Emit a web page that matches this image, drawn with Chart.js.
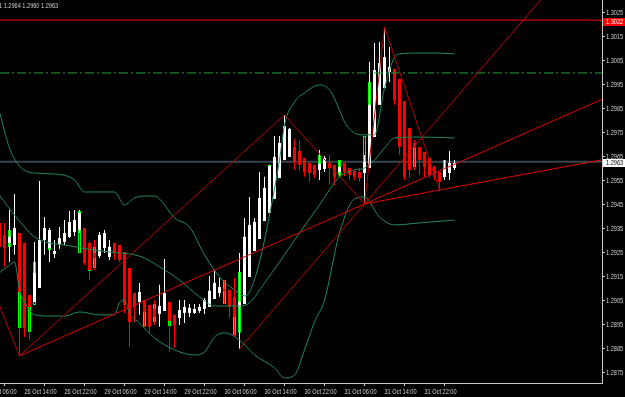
<!DOCTYPE html>
<html>
<head>
<meta charset="utf-8">
<script src="https://cdn.jsdelivr.net/npm/chart.js@4.4.1/dist/chart.umd.min.js"></script>
<style>
  html, body { margin: 0; padding: 0; background: #000; }
  #wrap { width: 625px; height: 397px; position: relative; }
</style>
</head>
<body>
<div id="wrap"><canvas id="graficoVelas"></canvas></div>
<script>
// Heiken Ashi H1, primer valor = barra -1 (26 Oct 09:00)
const haOpen = [1.29375, 1.29325, 1.29292, 1.29283, 1.29333, 1.29292, 1.29075, 1.29046, 1.29104, 1.29304,
  1.29271, 1.29246, 1.29287, 1.29296, 1.29317, 1.29337, 1.29346, 1.29354, 1.29292, 1.29250,
  1.29237, 1.29271, 1.29233, 1.29292, 1.29283, 1.29254, 1.29187, 1.29083, 1.29046, 1.29054,
  1.29033, 1.29017, 1.28996, 1.29008, 1.29046, 1.28992, 1.28979, 1.29000, 1.29000, 1.29000,
  1.29008, 1.29017, 1.29025, 1.29058, 1.29083, 1.29100, 1.29096, 1.29067, 1.29025, 1.29037,
  1.29150, 1.29258, 1.29308, 1.29383, 1.29417, 1.29475, 1.29562, 1.29637, 1.29650, 1.29691,
  1.29675, 1.29646, 1.29625, 1.29617, 1.29596, 1.29600, 1.29625, 1.29617, 1.29587, 1.29625,
  1.29604, 1.29592, 1.29587, 1.29583, 1.29604, 1.29733, 1.29867, 1.29937, 1.30004, 1.30017,
  1.29975, 1.29883, 1.29771, 1.29708, 1.29691, 1.29671, 1.29646, 1.29612, 1.29587, 1.29567,
  1.29583, 1.29604];
const haClose = [1.29275, 1.29271, 1.29317, 1.29354, 1.29087, 1.28937, 1.29025, 1.29167, 1.29304, 1.29354,
  1.29346, 1.29258, 1.29312, 1.29333, 1.29379, 1.29387, 1.29417, 1.29208, 1.29179, 1.29229,
  1.29325, 1.29333, 1.29275, 1.29254, 1.29221, 1.29033, 1.28962, 1.29025, 1.29087, 1.29004,
  1.28942, 1.28983, 1.29029, 1.29083, 1.28967, 1.28950, 1.29012, 1.29025, 1.29021, 1.29017,
  1.29025, 1.29054, 1.29092, 1.29125, 1.29108, 1.29092, 1.29025, 1.28983, 1.29046, 1.29317,
  1.29367, 1.29379, 1.29479, 1.29521, 1.29612, 1.29650, 1.29708, 1.29779, 1.29767, 1.29629,
  1.29617, 1.29587, 1.29583, 1.29575, 1.29621, 1.29646, 1.29604, 1.29567, 1.29608, 1.29587,
  1.29575, 1.29567, 1.29562, 1.29629, 1.29867, 1.30012, 1.30041, 1.30066, 1.30025, 1.29887,
  1.29691, 1.29567, 1.29596, 1.29687, 1.29637, 1.29608, 1.29575, 1.29567, 1.29546, 1.29604,
  1.29625, 1.29625];
const haHigh = [1.29408, 1.29375, 1.29429, 1.29496, 1.29333, 1.29292, 1.29075, 1.29296, 1.29550, 1.29400,
  1.29354, 1.29304, 1.29358, 1.29387, 1.29425, 1.29429, 1.29429, 1.29354, 1.29292, 1.29304,
  1.29337, 1.29346, 1.29304, 1.29292, 1.29283, 1.29254, 1.29187, 1.29083, 1.29125, 1.29054,
  1.29033, 1.29054, 1.29117, 1.29225, 1.29046, 1.28992, 1.29054, 1.29054, 1.29037, 1.29037,
  1.29037, 1.29062, 1.29154, 1.29175, 1.29146, 1.29137, 1.29096, 1.29146, 1.29250, 1.29396,
  1.29483, 1.29396, 1.29587, 1.29567, 1.29617, 1.29737, 1.29737, 1.29825, 1.29771, 1.29725,
  1.29721, 1.29646, 1.29625, 1.29617, 1.29679, 1.29654, 1.29658, 1.29617, 1.29629, 1.29625,
  1.29604, 1.29592, 1.29604, 1.29658, 1.30046, 1.30125, 1.30129, 1.30191, 1.30108, 1.30017,
  1.29975, 1.29883, 1.29771, 1.29721, 1.29691, 1.29671, 1.29646, 1.29612, 1.29587, 1.29637,
  1.29675, 1.29637];
const haLow = [1.29262, 1.29192, 1.29212, 1.29242, 1.28821, 1.28900, 1.28887, 1.29046, 1.29104, 1.29242,
  1.29212, 1.29229, 1.29267, 1.29283, 1.29312, 1.29321, 1.29333, 1.29200, 1.29137, 1.29179,
  1.29229, 1.29250, 1.29221, 1.29221, 1.29212, 1.29000, 1.28858, 1.28962, 1.28992, 1.28942,
  1.28917, 1.28950, 1.28942, 1.29008, 1.28837, 1.28854, 1.28950, 1.28958, 1.28983, 1.28996,
  1.29000, 1.28996, 1.29025, 1.29058, 1.29067, 1.29037, 1.28979, 1.28900, 1.28850, 1.29037,
  1.29150, 1.29258, 1.29308, 1.29383, 1.29417, 1.29475, 1.29562, 1.29637, 1.29650, 1.29596,
  1.29596, 1.29567, 1.29546, 1.29562, 1.29554, 1.29587, 1.29533, 1.29533, 1.29575, 1.29571,
  1.29554, 1.29554, 1.29546, 1.29454, 1.29604, 1.29733, 1.29867, 1.29937, 1.29962, 1.29867,
  1.29658, 1.29554, 1.29562, 1.29596, 1.29575, 1.29567, 1.29562, 1.29554, 1.29512, 1.29554,
  1.29554, 1.29596];

// velas reales (cuerpo con borde verde) que asoman detrás del Heiken Ashi
const realIdx = [1, 3, 5, 6, 9, 13, 15, 17, 18, 19, 24, 28, 30, 33, 40, 44, 46, 47, 48, 53,
  56, 58, 63, 67, 72, 73, 79, 82, 88];
const realOpen = [1.29346, 1.29304, 1.28921, 1.29033, 1.29346, 1.29317, 1.29250, 1.29229, 1.29187, 1.29237,
  1.29125, 1.29054, 1.28962, 1.29033, 1.29017, 1.29037, 1.28908, 1.28917, 1.29171, 1.29417,
  1.29712, 1.29679, 1.29596, 1.29637, 1.29583, 1.29742, 1.29783, 1.29608, 1.29567];
const realClose = [1.29275, 1.28937, 1.29025, 1.29212, 1.29262, 1.29379, 1.29425, 1.29175, 1.29275, 1.29325,
  1.29042, 1.28942, 1.29037, 1.28946, 1.29054, 1.29137, 1.28983, 1.29171, 1.29317, 1.29617,
  1.29779, 1.29637, 1.29658, 1.29567, 1.29737, 1.29962, 1.29691, 1.29708, 1.29637];

// Bandas de Bollinger
const ubIdx = [-1, 1, 3, 6, 10, 14, 16, 22, 24, 26, 28, 30, 31, 34, 37, 40, 43, 46, 48, 49,
  51, 53, 55, 56, 58, 60, 63, 65, 67, 68, 70, 72, 74, 76, 78, 79, 83, 87, 90];
const ubVal = [1.29837, 1.29687, 1.29612, 1.29583, 1.29579, 1.29554, 1.29504, 1.29504, 1.29450, 1.29479,
  1.29487, 1.29487, 1.29475, 1.29396, 1.29358, 1.29242, 1.29150, 1.29096, 1.29071, 1.29087,
  1.29212, 1.29408, 1.29637, 1.29783, 1.29879, 1.29917, 1.29950, 1.29929, 1.29846, 1.29796,
  1.29750, 1.29742, 1.29742, 1.29937, 1.30066, 1.30079, 1.30083, 1.30083, 1.30079];
const mbIdx = [-1, 2, 6, 9, 12, 18, 21, 26, 28, 31, 35, 39, 42, 47, 49, 52, 55, 58, 63, 67,
  70, 72, 74, 76, 78, 83, 90];
const mbVal = [1.29491, 1.29408, 1.29317, 1.29292, 1.29283, 1.29262, 1.29254, 1.29242, 1.29229, 1.29192,
  1.29137, 1.29067, 1.29029, 1.29029, 1.29042, 1.29125, 1.29212, 1.29304, 1.29450, 1.29567,
  1.29596, 1.29604, 1.29637, 1.29687, 1.29729, 1.29733, 1.29729];
const lbIdx = [-1, 1, 2, 3, 4, 6, 9, 12, 15, 19, 22, 23, 24, 25, 27, 30, 34, 38, 40, 42,
  44, 47, 50, 54, 56, 58, 60, 62, 64, 67, 70, 72, 75, 78, 83, 90];
const lbVal = [1.29167, 1.29200, 1.29212, 1.29096, 1.29046, 1.28992, 1.28987, 1.28987, 1.29004, 1.28992,
  1.28992, 1.29042, 1.29054, 1.29000, 1.28958, 1.28896, 1.28846, 1.28825, 1.28837, 1.28900,
  1.28917, 1.28887, 1.28825, 1.28771, 1.28729, 1.28741, 1.28846, 1.28962, 1.29054, 1.29333,
  1.29475, 1.29483, 1.29400, 1.29367, 1.29375, 1.29387];

// objetos dibujados: zigzag y líneas de tendencia
const zigzagIdx = [-1, 3, 56, 72, 76, 87];
const zigzagVal = [1.2903, 1.28821, 1.29825, 1.29454, 1.30191, 1.29512];
const rayAIdx = [3, 119.5];
const rayAVal = [1.28821, 1.2989];
const rayBIdx = [72, 119.5];
const rayBVal = [1.29454, 1.29638];
const rayCIdx = [47, 107.2];
const rayCVal = [1.2885, 1.30304];

const redLevel = 1.3022;
const dashLevel = 1.3;
const lastPrice = 1.2963;
const headerText = "1 1.2964 1.2960 1.2963";

// ejes
const timeTickIdx = [-4, 4, 12, 20, 28, 36, 44, 52, 60, 68, 76, 84];
const timeTickLabels = ["26 Oct 06:00", "26 Oct 14:00", "26 Oct 22:00", "29 Oct 06:00", "29 Oct 14:00",
  "29 Oct 22:00", "30 Oct 06:00", "30 Oct 14:00", "30 Oct 22:00", "31 Oct 06:00", "31 Oct 14:00", "31 Oct 22:00"];
const priceTicks = [1.2875, 1.2885, 1.2895, 1.2905, 1.2915, 1.2925, 1.2935, 1.2945, 1.2955, 1.2965,
  1.2975, 1.2985, 1.2995, 1.3005, 1.3015, 1.3025];

const xMin = -0.9;
const xMax = 119.5;
const yMin = 1.28708;
const yMax = 1.30304;

const fontFamily = "'Liberation Sans', Arial, sans-serif";
const axisColor = "#c8c8c8";

const barIdx = haOpen.map((_, i) => i - 1);
const haColor = haOpen.map((o, i) => (haClose[i] >= o ? "#ffffff" : "#ff0000"));
const pts = (idx, val) => idx.map((k, i) => ({ x: k, y: val[i] }));

// letra estrecha como la de MT4: se comprime el texto en horizontal
const textoEstrecho = {
  id: "textoEstrecho",
  beforeDraw(chart) {
    const c = chart.ctx;
    if (c._estrecho) return;
    c._estrecho = true;
    const fillOriginal = c.fillText.bind(c);
    c.fillText = (text, x, y) => {
      c.save();
      c.translate(x, y);
      c.scale(0.7, 1);
      fillOriginal(text, 0, 0);
      c.restore();
    };
  },
};

// etiquetas de precio y cabecera
const etiquetasPrecio = {
  id: "etiquetasPrecio",
  afterDraw(chart) {
    const { ctx, scales } = chart;
    const y = scales.y;
    ctx.save();
    ctx.font = "8px " + fontFamily;
    ctx.textBaseline = "middle";
    ctx.textAlign = "left";
    ctx.fillStyle = "#d0d0d0";
    ctx.fillText(headerText, -1, 6);

    const yr = Math.round(y.getPixelForValue(redLevel));
    ctx.fillStyle = "#ff0000";
    ctx.fillRect(603, yr - 2, 22, 8);
    ctx.fillStyle = "#ffffff";
    ctx.fillText(redLevel.toFixed(4), 606, yr + 2);

    const yl = Math.round(y.getPixelForValue(lastPrice));
    ctx.fillStyle = "#ffffff";
    ctx.fillRect(603, yl - 3, 22, 8);
    ctx.fillStyle = "#000000";
    ctx.fillText(lastPrice.toFixed(4), 606, yl + 1);
    ctx.restore();
  },
};

const ctx = document.getElementById("graficoVelas").getContext("2d");

new Chart(ctx, {
  type: "bar",
  data: {
    datasets: [
      {
        type: "line",
        label: "Precio actual",
        data: [{ x: xMin, y: lastPrice }, { x: xMax, y: lastPrice }],
        borderColor: "#36444e",
        borderWidth: 2,
        pointRadius: 0,
        order: 10,
      },
      {
        label: "Velas",
        data: realIdx.map((k, i) => ({ x: k, y: [realOpen[i], realClose[i]] })),
        backgroundColor: realIdx.map((k, i) => (realClose[i] > realOpen[i] ? "#000000" : "#ffffff")),
        borderColor: "#00ff00",
        borderWidth: 1,
        borderSkipped: false,
        barThickness: 3,
        grouped: false,
        inflateAmount: 0,
        order: 9,
      },
      {
        label: "HA mechas",
        data: barIdx.map((k, i) => ({ x: k, y: [haLow[i], haHigh[i]] })),
        backgroundColor: haColor,
        barThickness: 1,
        grouped: false,
        inflateAmount: 0,
        order: 8,
      },
      {
        label: "HA cuerpos",
        data: barIdx.map((k, i) => ({ x: k, y: [haOpen[i], haClose[i]] })),
        backgroundColor: haColor,
        barThickness: 3,
        grouped: false,
        inflateAmount: 0,
        order: 7,
      },
      {
        type: "line",
        label: "BB superior",
        data: pts(ubIdx, ubVal),
        borderColor: "#1f8a5c",
        borderWidth: 1,
        pointRadius: 0,
        cubicInterpolationMode: "monotone",
        order: 5,
      },
      {
        type: "line",
        label: "BB media",
        data: pts(mbIdx, mbVal),
        borderColor: "#1f8a5c",
        borderWidth: 1,
        pointRadius: 0,
        cubicInterpolationMode: "monotone",
        order: 5,
      },
      {
        type: "line",
        label: "BB inferior",
        data: pts(lbIdx, lbVal),
        borderColor: "#1f8a5c",
        borderWidth: 1,
        pointRadius: 0,
        cubicInterpolationMode: "monotone",
        order: 5,
      },
      {
        type: "line",
        label: "Nivel punteado",
        data: [{ x: xMin, y: dashLevel }, { x: xMax, y: dashLevel }],
        borderColor: "#23a03c",
        borderWidth: 1,
        borderDash: [9, 3, 2, 3],
        pointRadius: 0,
        order: 4,
      },
      {
        type: "line",
        label: "ZigZag",
        data: pts(zigzagIdx, zigzagVal),
        borderColor: "#b80000",
        borderWidth: 1,
        pointRadius: 0,
        order: 3,
      },
      {
        type: "line",
        label: "Tendencia A",
        data: pts(rayAIdx, rayAVal),
        borderColor: "#e00000",
        borderWidth: 1,
        pointRadius: 0,
        order: 3,
      },
      {
        type: "line",
        label: "Tendencia B",
        data: pts(rayBIdx, rayBVal),
        borderColor: "#e00000",
        borderWidth: 1,
        pointRadius: 0,
        order: 3,
      },
      {
        type: "line",
        label: "Tendencia C",
        data: pts(rayCIdx, rayCVal),
        borderColor: "#c00000",
        borderWidth: 1,
        pointRadius: 0,
        order: 3,
      },
      {
        type: "line",
        label: "Nivel rojo",
        data: [{ x: xMin, y: redLevel }, { x: xMax, y: redLevel }],
        borderColor: "#ff0000",
        borderWidth: 1,
        pointRadius: 0,
        order: 2,
      },
    ],
  },
  options: {
    responsive: true,
    maintainAspectRatio: false,
    animation: false,
    layout: { padding: 0 },
    plugins: {
      legend: { display: false },
      tooltip: { enabled: false },
    },
    scales: {
      x: {
        type: "linear",
        min: xMin,
        max: xMax,
        offset: false,
        afterBuildTicks: (scale) => {
          scale.ticks = timeTickIdx.map((v) => ({ value: v }));
        },
        afterFit: (scale) => {
          scale.height = 14;
          scale.paddingLeft = 0;
          scale.paddingRight = 0;
        },
        ticks: {
          autoSkip: false,
          maxRotation: 0,
          minRotation: 0,
          align: "start",
          padding: 1,
          color: "#d0d0d0",
          font: { family: fontFamily, size: 8 },
          callback: (value) => {
            const i = timeTickIdx.indexOf(value);
            return i >= 0 ? timeTickLabels[i] : "";
          },
        },
        grid: { display: true, drawOnChartArea: false, drawTicks: true, tickLength: 3, color: axisColor },
        border: { display: true, color: axisColor },
      },
      y: {
        position: "right",
        min: yMin,
        max: yMax,
        afterBuildTicks: (scale) => {
          scale.ticks = priceTicks.map((v) => ({ value: v }));
        },
        afterFit: (scale) => {
          scale.width = 23;
          scale.paddingTop = 0;
          scale.paddingBottom = 0;
        },
        ticks: {
          padding: 1,
          color: "#d0d0d0",
          font: { family: fontFamily, size: 8 },
          callback: (value) => value.toFixed(4),
        },
        grid: { display: true, drawOnChartArea: false, drawTicks: true, tickLength: 3, color: axisColor },
        border: { display: true, color: axisColor },
      },
    },
  },
  plugins: [textoEstrecho, etiquetasPrecio],
});
</script>
</body>
</html>
